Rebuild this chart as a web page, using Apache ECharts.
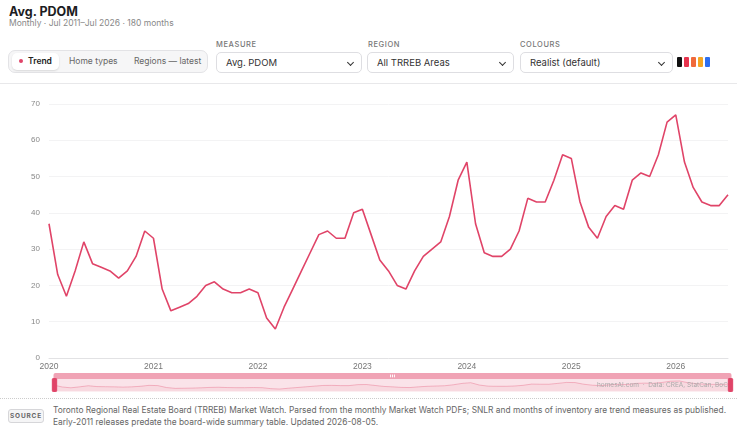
<!DOCTYPE html>
<html>
<head>
<meta charset="utf-8">
<script src="https://cdn.jsdelivr.net/npm/echarts@6/dist/echarts.min.js"></script>
<style>
  body { margin:0; width:750px; height:434px; background:#fff; font-family:Inter, "Noto Sans", sans-serif; color:#222; position:relative; overflow:hidden; }
  .title { position:absolute; left:9px; top:4px; font-size:12.5px; font-weight:700; color:#1d1d1f; }
  .sub { position:absolute; left:9px; top:18px; font-size:8.5px; color:#888; }
  .tabs { position:absolute; left:8px; top:50px; width:200px; height:23px; border:1px solid #e3e3e6; border-radius:7px; background:#f6f6f7; box-sizing:border-box; font-size:8.5px; color:#666; }
  .tab { position:absolute; top:2px; height:17px; line-height:17px; }
  .tab.on { left:3px; width:47px; background:#fff; border-radius:5px; box-shadow:0 1px 2px rgba(0,0,0,0.12); color:#222; font-weight:600; text-align:center; }
  .tab.on i { display:inline-block; width:4px; height:4px; border-radius:2px; background:#e04468; margin-right:5px; vertical-align:middle; position:relative; top:-1px; }
  .lbl { position:absolute; top:40px; font-size:7.5px; letter-spacing:0.6px; color:#777; font-weight:500; }
  .sel { position:absolute; top:52px; height:21px; border:1px solid #dedee2; border-radius:5px; box-sizing:border-box; font-size:9.5px; color:#333; line-height:19px; padding-left:9px; background:#fff; }
  .sel b { position:absolute; right:8px; top:7px; width:4px; height:4px; border-right:1.4px solid #333; border-bottom:1.4px solid #333; transform:rotate(45deg); }
  .sw { position:absolute; top:57px; width:5px; height:10px; border-radius:1px; }
  .sep { position:absolute; left:0; top:83px; width:737px; border-top:1px solid #e8e8ea; }
  .dot { position:absolute; left:0; top:398px; width:737px; border-top:1px dotted #ccc; }
  .src { position:absolute; left:8px; top:409px; width:36px; height:14px; box-sizing:border-box; border:1px solid #d6d6d9; border-radius:3px; background:#f5f5f6; font-size:6.5px; font-weight:700; letter-spacing:0.8px; color:#666; text-align:center; line-height:12px; }
  .srctext { position:absolute; left:53px; top:404px; width:680px; font-size:8.4px; line-height:12px; color:#666; }
  #chart { position:absolute; left:0; top:85px; width:750px; height:312px; }
</style>
</head>
<body>
<div class="title">Avg. PDOM</div>
<div class="sub">Monthly · Jul 2011–Jul 2026 · 180 months</div>
<div class="tabs">
  <div class="tab on"><i></i>Trend</div>
  <div class="tab" style="left:60px">Home types</div>
  <div class="tab" style="left:125px">Regions — latest</div>
</div>
<div class="lbl" style="left:216px">MEASURE</div>
<div class="sel" style="left:216px;width:146px">Avg. PDOM<b></b></div>
<div class="lbl" style="left:368px">REGION</div>
<div class="sel" style="left:367px;width:147px">All TRREB Areas<b></b></div>
<div class="lbl" style="left:520px">COLOURS</div>
<div class="sel" style="left:520px;width:153px">Realist (default)<b></b></div>
<div class="sw" style="left:677px;background:#111"></div>
<div class="sw" style="left:684px;background:#e8344e"></div>
<div class="sw" style="left:691px;background:#f06a3a"></div>
<div class="sw" style="left:698px;background:#f5a623"></div>
<div class="sw" style="left:705px;background:#2d6ff0"></div>
<div class="sep"></div>
<div id="chart"></div>
<div class="dot"></div>
<div class="src">SOURCE</div>
<div class="srctext">Toronto Regional Real Estate Board (TRREB) Market Watch. Parsed from the monthly Market Watch PDFs; SNLR and months of inventory are trend measures as published. Early-2011 releases predate the board-wide summary table. Updated 2026-08-05.</div>
<script>
var years = ['2020', '2021', '2022', '2023', '2024', '2025', '2026'];
var pdom2020 = [37, 23, 17, 24, 32, 26, 25, 24, 22, 24, 28, 35];
var pdom2021 = [33, 19, 13, 14, 15, 17, 20, 21, 19, 18, 18, 19];
var pdom2022 = [18, 11, 8, 14, 19, 24, 29, 34, 35, 33, 33, 40];
var pdom2023 = [41, 34, 27, 24, 20, 19, 24, 28, 30, 32, 39, 49];
var pdom2024 = [54, 37, 29, 28, 28, 30, 35, 44, 43, 43, 49, 56];
var pdom2025 = [55, 43, 36, 33, 39, 42, 41, 49, 51, 50, 56, 65];
var pdom2026 = [67, 54, 47, 43, 42, 42, 45];

var yearData = [pdom2020, pdom2021, pdom2022, pdom2023, pdom2024, pdom2025, pdom2026];
var months = [];
var values = [];
for (var i = 0; i < yearData.length; i++) {
  for (var j = 0; j < yearData[i].length; j++) {
    months.push(years[i] + '-' + (j < 9 ? '0' : '') + (j + 1));
    values.push(yearData[i][j]);
  }
}

var lineColor = '#e04468';
var option = {
  animation: false,
  grid: { left: 49, right: 22, top: 19, bottom: 39 },
  xAxis: {
    type: 'category',
    boundaryGap: false,
    data: months,
    axisLine: { lineStyle: { color: '#e2e2e4' } },
    axisTick: { show: false },
    axisLabel: {
      color: '#777', fontSize: 8.5, margin: 4,
      interval: function (idx, val) { return val.slice(5) === '01'; },
      formatter: function (val) { return val.slice(0, 4); }
    },
    splitLine: { show: false }
  },
  yAxis: {
    type: 'value',
    min: 0, max: 70, interval: 10,
    axisLine: { show: false },
    axisTick: { show: false },
    axisLabel: { color: '#888', fontSize: 8, margin: 9 },
    splitLine: { lineStyle: { color: '#f3f3f4' } }
  },
  dataZoom: [{
    type: 'slider',
    left: 51, right: 21, top: 288, height: 13,
    start: 0, end: 100,
    showDetail: false,
    borderColor: 'transparent',
    backgroundColor: 'rgba(224,68,104,0.05)',
    fillerColor: 'rgba(224,68,104,0.10)',
    brushSelect: true,
    moveHandleSize: 6,
    moveHandleStyle: { color: '#f0a3b5', opacity: 1 },
    emphasis: { moveHandleStyle: { color: '#f0a3b5', opacity: 1 } },
    handleIcon: 'path://M2,0 L8,0 Q10,0 10,2 L10,28 Q10,30 8,30 L2,30 Q0,30 0,28 L0,2 Q0,0 2,0 Z',
    handleSize: '100%',
    handleStyle: { color: lineColor, borderColor: lineColor },
    dataBackground: {
      lineStyle: { color: lineColor, opacity: 0.35, width: 0.8 },
      areaStyle: { color: lineColor, opacity: 0.05 }
    },
    selectedDataBackground: {
      lineStyle: { color: lineColor, opacity: 0.4, width: 0.8 },
      areaStyle: { color: lineColor, opacity: 0.06 }
    }
  }],
  graphic: [{
    type: 'text',
    right: 22, top: 297,
    style: { text: 'homesAI.com  ·  Data: CREA, StatCan, BoC', fill: '#aaa', fontSize: 6.5, fontFamily: 'Inter' },
    z: 1000
  }],
  series: [{
    name: 'Avg. PDOM',
    type: 'line',
    data: values,
    showSymbol: false,
    lineStyle: { color: lineColor, width: 1.6 },
    itemStyle: { color: lineColor }
  }]
};
var myChart = echarts.init(document.getElementById('chart'));
myChart.setOption(option);
</script>
</body>
</html>
